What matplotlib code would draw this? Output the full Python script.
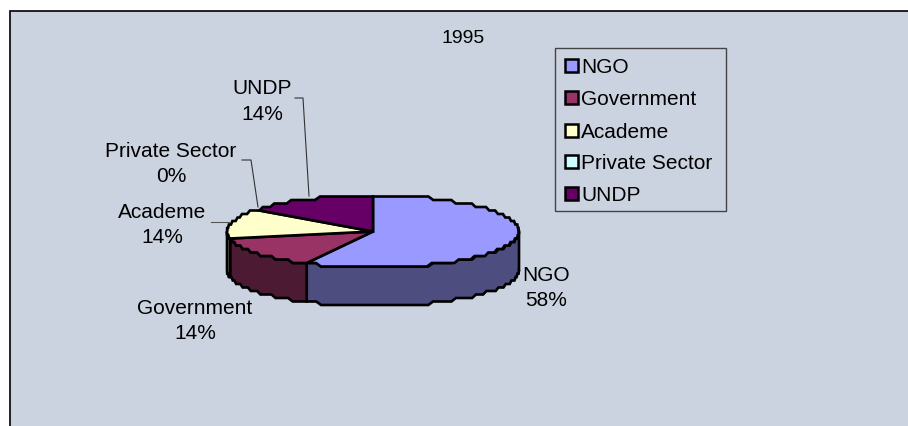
import numpy as np
import matplotlib
matplotlib.use('Agg')
import matplotlib.pyplot as plt
from matplotlib.patches import Polygon, Rectangle

plt.rcParams['font.family'] = ['Liberation Sans', 'DejaVu Sans']

# Data
categories = ['NGO', 'Government', 'Academe', 'Private Sector', 'UNDP']
values = [57.5, 14.2, 14.1, 0, 14.2]
top_colors = ['#9999FF', '#993366', '#FFFFCC', '#CCFFFF', '#660066']
side_colors = ['#4D4D80', '#4D1A33', '#808066', '#668080', '#330033']
chart_title = '1995'

BG = '#CCD3E0'
CX, CY, RX, RY, DEPTH = 373, 232.5, 146, 36, 38.5
STEP = 3.5
FS = 15

# Axes in image pixels
fig = plt.figure(figsize=(9.08, 4.27), dpi=100)
ax = fig.add_axes([0, 0, 1, 1])
ax.set_xlim(0, 908)
ax.set_ylim(427, 0)
ax.axis('off')

# Chart area runs off the right and bottom of the picture
ax.add_patch(Rectangle((9.5, 12), 910, 430, fc=BG, ec='black', lw=1.2))


def arc(a0, a1, dy=0):
    # angles in degrees, clockwise from 12 o'clock, y snapped to get the stepped edge
    n = max(int((a1 - a0) / 2.0), 2)
    t = np.radians(np.linspace(a0, a1, n))
    x = CX + RX * np.sin(t)
    y = CY - RY * np.cos(t)
    y = CY + np.round((y - CY) / STEP) * STEP
    return np.column_stack([x, y + dy])


angles = np.concatenate([[0], np.cumsum(values)]) * 360 / sum(values)

# Sides of the pie, only the part facing the viewer
for i in range(len(values)):
    a0, a1 = max(angles[i], 90), min(angles[i + 1], 270)
    if a1 <= a0:
        continue
    upper = arc(a0, a1)
    lower = arc(a0, a1, DEPTH)[::-1]
    ax.add_patch(Polygon(np.vstack([upper, lower]), closed=True, fc=side_colors[i],
                         ec='black', lw=1.9, joinstyle='miter'))

# Top of the pie
for i in range(len(values)):
    if values[i] == 0:
        continue
    pts = np.vstack([[CX, CY], arc(angles[i], angles[i + 1])])
    ax.add_patch(Polygon(pts, closed=True, fc=top_colors[i], ec='black', lw=1.9,
                         joinstyle='miter'))

# Title and data labels
ax.text(463, 43, chart_title, ha='center', va='baseline', fontsize=14)

label_pos = [(546, 281.5), (195, 314.5), (162, 218.5), (171, 157.5), (262, 94.5)]
for name, val, (lx, ly) in zip(categories, values, label_pos):
    ax.text(lx, ly, name, ha='center', va='baseline', fontsize=FS)
    ax.text(lx, ly + 25, f'{val:.0f}%', ha='center', va='baseline', fontsize=FS)

# Leader lines
ax.plot([295, 303, 309], [99, 99, 197], color='#333333', lw=0.8)
ax.plot([242, 251, 258], [161, 161, 208], color='#333333', lw=0.8)
ax.plot([211, 230], [223, 223], color='#555555', lw=0.8)

# Legend box
ax.add_patch(Rectangle((555, 49), 171, 163, fc=BG, ec='#444444', lw=1.0))
legend_y = [66, 98, 131, 162, 194]
for i, name in enumerate(categories):
    y = legend_y[i]
    ax.add_patch(Rectangle((564.5, y - 6), 13.5, 12.5, fc=top_colors[i], ec='black', lw=1.8))
    ax.text(581, y + 7, name, ha='left', va='baseline', fontsize=FS)

plt.savefig('out.png', dpi=100)
